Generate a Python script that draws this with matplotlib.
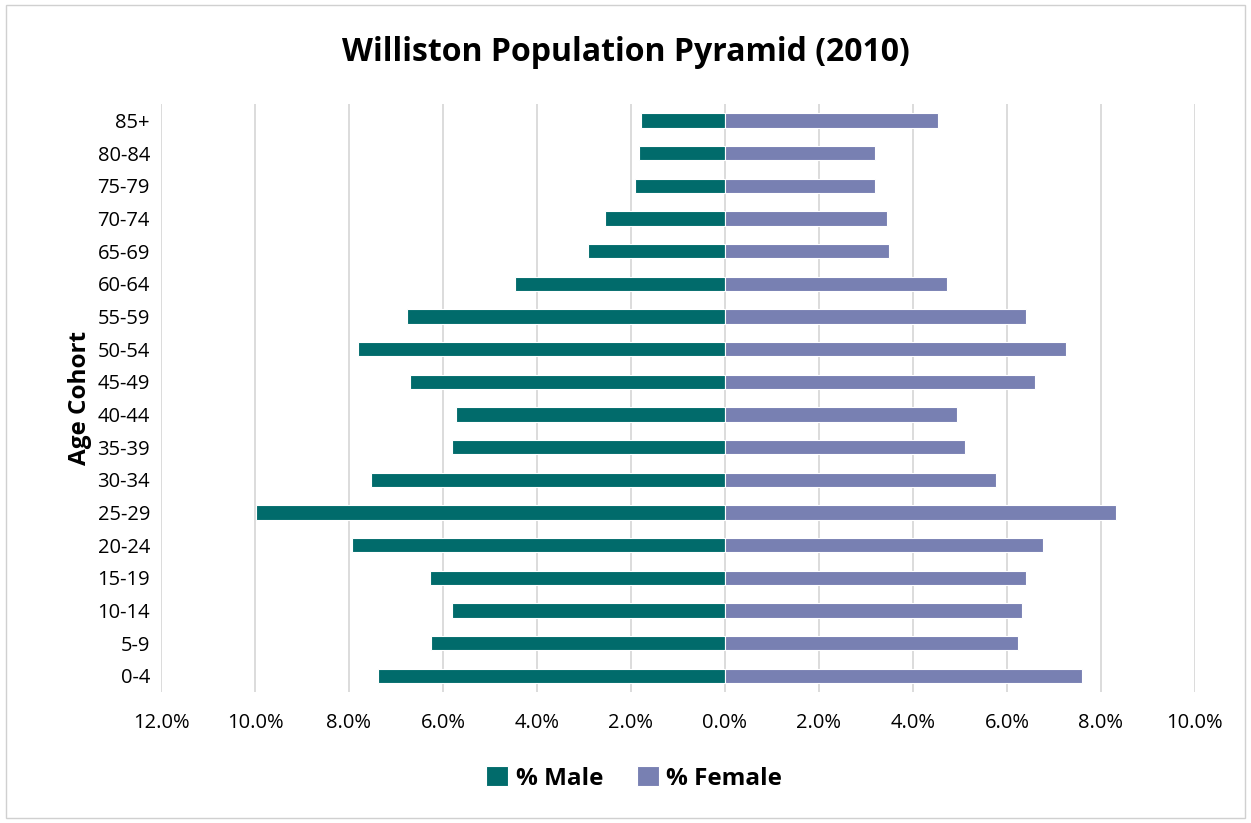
import matplotlib
matplotlib.use("Agg")
import matplotlib.pyplot as plt
from matplotlib.ticker import FuncFormatter

plt.rcParams['font.family'] = ['Open Sans', 'DejaVu Sans']

cohorts = ['0-4', '5-9', '10-14', '15-19', '20-24', '25-29', '30-34', '35-39', '40-44',
           '45-49', '50-54', '55-59', '60-64', '65-69', '70-74', '75-79', '80-84', '85+']
male = [7.38, 6.26, 5.81, 6.28, 7.94, 9.98, 7.53, 5.81, 5.72,
        6.70, 7.81, 6.77, 4.47, 2.91, 2.55, 1.91, 1.83, 1.79]
female = [7.60, 6.23, 6.32, 6.40, 6.77, 8.32, 5.77, 5.11, 4.94,
          6.60, 7.26, 6.40, 4.72, 3.49, 3.45, 3.19, 3.19, 4.53]

male_color = '#016B6B'
female_color = '#7880B2'

fig = plt.figure(figsize=(12.51, 8.23), dpi=100)
ax = fig.add_axes([0.1287, 0.159, 0.8265, 0.7146])

y = range(len(cohorts))
ax.barh(y, [-m for m in male], height=0.44, color=male_color, edgecolor='white', linewidth=0.8,
        label='% Male', zorder=3)
ax.barh(y, female, height=0.44, color=female_color, edgecolor='white', linewidth=0.8,
        label='% Female', zorder=3)

ax.set_xlim(-12, 10)
ax.set_ylim(-0.5, len(cohorts) - 0.5)
ax.set_xticks(range(-12, 11, 2))
ax.xaxis.set_major_formatter(FuncFormatter(lambda v, p: f'{abs(v):.1f}%'))
ax.set_yticks(list(y))
ax.set_yticklabels(cohorts)
ax.tick_params(axis='both', length=0, labelsize=14.5, colors='black')
ax.tick_params(axis='x', pad=15)
ax.tick_params(axis='y', pad=8)
ax.grid(axis='x', color='#D9D9D9', linewidth=1.3, zorder=0)
for s in ax.spines.values():
    s.set_visible(False)

ax.set_ylabel('Age Cohort', fontsize=17.5, fontweight='bold', labelpad=4)
fig.suptitle('Williston Population Pyramid (2010)', fontsize=23, fontweight='bold', y=0.956)

fig.legend(loc='center', bbox_to_anchor=(0.507, 0.054), ncol=2, frameon=False,
           prop={'weight': 'bold', 'size': 17.5}, handlelength=0.9, handleheight=0.9,
           handletextpad=0.3, columnspacing=1.4)

border = plt.Rectangle((0.005, 0.006), 0.99, 0.988, transform=fig.transFigure, fill=False,
                       edgecolor='#D0D0D0', linewidth=1)
fig.add_artist(border)

fig.savefig('out.png', dpi=100)
